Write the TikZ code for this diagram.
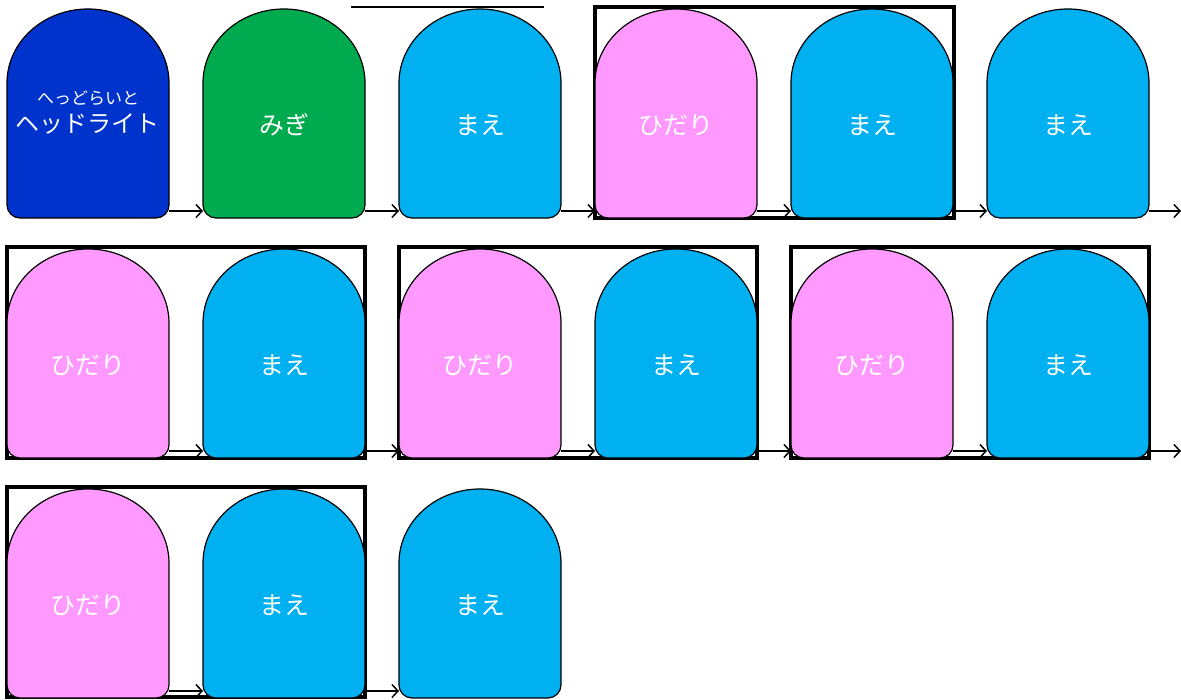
\documentclass[tikz,border=0pt]{standalone}
\usepackage{fontspec}
\newfontfamily\jp{Noto Sans CJK JP}
\usetikzlibrary{arrows.meta}
\definecolor{dblue}{HTML}{0033CC}
\definecolor{lgreen}{HTML}{00AA4E}
\definecolor{lblue}{HTML}{00B0F0}
\definecolor{lpink}{HTML}{FF99FF}
\tikzset{
  tileshape/.style={draw=black,line width=1.2pt},
  tiletext/.style={text=white,font=\jp\fontsize{25}{28}\selectfont,inner sep=0pt},
  conn/.style={line width=1.5pt,-{Straight Barb[length=6pt,width=13pt,line width=1.5pt]}},
  frame/.style={draw=black,line width=3.5pt},
}
% #1 name, #2 x-left, #3 y-top (downward), #4 colour, #5 text
\newcommand\mytile[5]{%
  \pgfmathsetmacro\tx{#2}%
  \pgfmathsetmacro\ty{-(#3)}%
  \fill[#4,tileshape] (\tx pt,\ty pt-75pt) [rounded corners=13pt] -- (\tx pt,\ty pt-210pt) -- (\tx pt+162pt,\ty pt-210pt) [sharp corners] -- (\tx pt+162pt,\ty pt-75pt) arc[start angle=0,end angle=180,x radius=81pt,y radius=74pt] -- cycle;
  \node[tiletext] (#1) at (\tx pt+81pt,\ty pt-117pt) {#5};
  \coordinate (#1-l) at (\tx pt,\ty pt-203pt);
  \coordinate (#1-r) at (\tx pt+162pt,\ty pt-203pt);
}
\begin{document}
\begin{tikzpicture}
\useasboundingbox (0pt,0pt) rectangle (1181pt,-699pt);
% frames
\draw[frame] (595pt,-7pt) rectangle (954pt,-218pt);
\draw[frame] (7pt,-247pt) rectangle (365pt,-458pt);
\draw[frame] (399pt,-247pt) rectangle (757pt,-458pt);
\draw[frame] (791pt,-247pt) rectangle (1149pt,-458pt);
\draw[frame] (7pt,-487pt) rectangle (365pt,-697pt);
% top line
\coordinate (tl1) at (351pt,-7pt);
\coordinate (tl2) at (544pt,-7pt);
\draw[line width=1.5pt] (tl1) -- (tl2);
% row 1
\fill[dblue,tileshape] (7pt,-83pt) [rounded corners=13pt] -- (7pt,-218pt) -- (169pt,-218pt) [sharp corners] -- (169pt,-83pt) arc[start angle=0,end angle=180,x radius=81pt,y radius=74pt] -- cycle;
\node[tiletext,align=center] (a1) at (88pt,-112pt) {{\fontsize{17}{18}\selectfont へっどらいと}\\[0pt]{\fontsize{24}{26}\selectfont ヘッドライト}};
\coordinate (a1-r) at (169pt,-211pt);
\mytile{a2}{203}{8}{lgreen}{みぎ}
\mytile{a3}{399}{8}{lblue}{まえ}
\mytile{a4}{595}{8}{lpink}{ひだり}
\mytile{a5}{791}{8}{lblue}{まえ}
\mytile{a6}{987}{8}{lblue}{まえ}
\coordinate (a-end) at (1181pt,-211pt);
\draw[conn] (a1-r) -- (a2-l);
\draw[conn] (a2-r) -- (a3-l);
\draw[conn] (a3-r) -- (a4-l);
\draw[conn] (a4-r) -- (a5-l);
\draw[conn] (a5-r) -- (a6-l);
\draw[conn] (a6-r) -- (a-end);
% row 2
\mytile{b1}{7}{248}{lpink}{ひだり}
\mytile{b2}{203}{248}{lblue}{まえ}
\mytile{b3}{399}{248}{lpink}{ひだり}
\mytile{b4}{595}{248}{lblue}{まえ}
\mytile{b5}{791}{248}{lpink}{ひだり}
\mytile{b6}{987}{248}{lblue}{まえ}
\coordinate (b-end) at (1181pt,-451pt);
\draw[conn] (b1-r) -- (b2-l);
\draw[conn] (b2-r) -- (b3-l);
\draw[conn] (b3-r) -- (b4-l);
\draw[conn] (b4-r) -- (b5-l);
\draw[conn] (b5-r) -- (b6-l);
\draw[conn] (b6-r) -- (b-end);
% row 3
\mytile{c1}{7}{488}{lpink}{ひだり}
\mytile{c2}{203}{488}{lblue}{まえ}
\mytile{c3}{399}{488}{lblue}{まえ}
\draw[conn] (c1-r) -- (c2-l);
\draw[conn] (c2-r) -- (c3-l);
\end{tikzpicture}
\end{document}
